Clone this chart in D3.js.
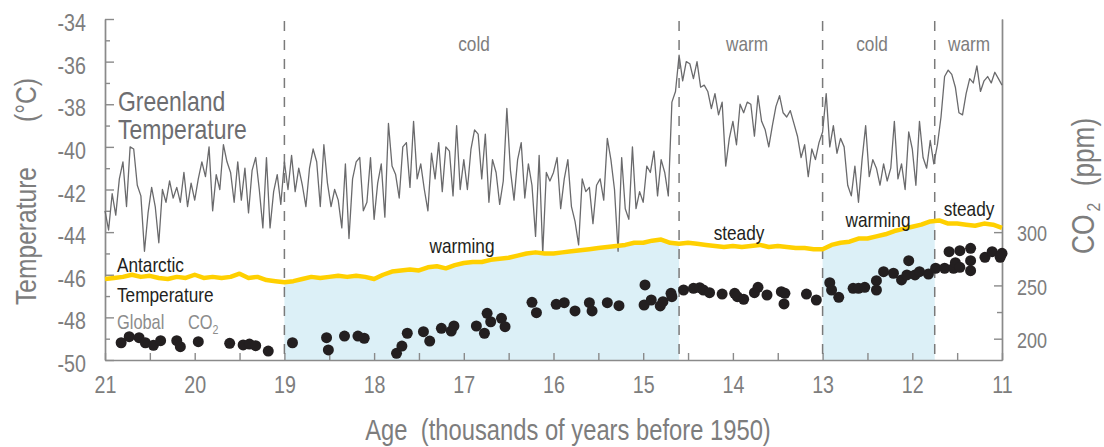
<!DOCTYPE html>
<html>
<head>
<meta charset="utf-8">
<script src="https://cdn.jsdelivr.net/npm/d3@7"></script>
<style>
    body { margin: 0; background: #fff; }
    svg text { font-family: 'Liberation Sans', Arial, sans-serif; white-space: pre; }
</style>
</head>
<body>
<svg id="chart" width="1104" height="447"></svg>
<script>
'use strict';

// Greenland ice core temperature, [age (ka), degC]
var greenland = [
    [21.00,-43.0],[20.96,-43.9],[20.92,-42.2],[20.88,-43.2],[20.84,-41.5],[20.80,-40.7],[20.76,-42.8],[20.72,-40.0],[20.68,-40.1],[20.64,-41.8],
    [20.60,-42.3],[20.56,-44.9],[20.52,-43.1],[20.48,-41.9],[20.44,-42.8],[20.40,-44.5],[20.36,-42.0],[20.32,-42.6],[20.28,-41.6],[20.24,-42.4],
    [20.20,-41.9],[20.16,-42.6],[20.12,-41.2],[20.08,-42.8],[20.04,-41.7],[20.00,-42.5],[19.96,-41.5],[19.92,-40.7],[19.88,-41.4],[19.84,-40.0],
    [19.80,-43.0],[19.76,-41.3],[19.72,-42.0],[19.68,-39.9],[19.64,-40.7],[19.60,-41.2],[19.56,-42.6],[19.52,-40.7],[19.48,-42.5],[19.44,-41.0],
    [19.40,-43.1],[19.36,-41.1],[19.32,-40.5],[19.28,-42.0],[19.24,-43.8],[19.20,-40.5],[19.16,-43.8],[19.12,-42.1],[19.08,-41.3],[19.04,-42.7],
    [19.00,-40.7],
    [18.96,-42.0],[18.92,-40.4],[18.88,-42.1],[18.84,-41.0],[18.80,-41.8],[18.76,-42.8],[18.72,-41.0],[18.68,-40.1],[18.64,-40.7],[18.60,-42.8],
    [18.56,-39.9],[18.52,-41.7],[18.48,-42.8],[18.44,-42.0],[18.40,-42.5],[18.36,-43.8],[18.32,-40.8],[18.28,-44.3],[18.24,-41.5],[18.20,-40.7],
    [18.16,-40.5],[18.12,-43.0],[18.08,-42.6],[18.04,-40.5],[18.00,-43.4],[17.96,-41.7],[17.92,-40.8],[17.88,-43.3],[17.84,-38.9],[17.80,-40.9],
    [17.76,-41.3],[17.72,-42.4],[17.68,-40.0],[17.64,-39.8],[17.60,-41.9],[17.56,-38.8],[17.52,-41.5],[17.48,-40.8],[17.44,-42.0],[17.40,-43.0],
    [17.36,-40.3],[17.32,-41.5],[17.28,-39.8],[17.24,-42.1],[17.20,-40.0],[17.16,-40.2],[17.12,-42.3],[17.08,-39.0],[17.04,-42.0],[17.00,-40.6],
    [16.96,-42.0],[16.92,-40.1],[16.88,-39.2],[16.84,-39.4],[16.80,-41.5],[16.76,-39.4],[16.72,-42.6],[16.68,-40.6],[16.64,-41.2],[16.60,-42.7],
    [16.56,-41.6],[16.52,-38.2],[16.48,-41.1],[16.44,-42.5],[16.40,-40.6],[16.36,-39.8],[16.32,-42.4],[16.28,-40.8],[16.24,-41.8],[16.20,-44.2],
    [16.16,-40.4],[16.12,-45.0],[16.08,-41.2],[16.04,-41.6],[16.00,-41.2],[15.96,-40.5],[15.92,-42.9],[15.88,-41.5],[15.84,-40.6],[15.80,-42.8],
    [15.76,-43.5],[15.72,-44.6],[15.68,-41.5],[15.64,-42.1],[15.60,-41.9],[15.56,-43.6],[15.52,-41.8],[15.48,-41.5],[15.44,-42.5],[15.40,-39.6],
    [15.36,-40.6],[15.32,-42.0],[15.28,-44.9],[15.24,-40.5],[15.20,-42.9],[15.16,-43.4],[15.12,-40.0],[15.08,-42.9],[15.04,-42.1],[15.00,-42.6],
    [14.96,-40.9],[14.92,-41.2],[14.88,-40.2],[14.84,-42.3],[14.80,-40.6],[14.76,-41.2],[14.72,-42.3],[14.68,-37.9],[14.64,-37.4],
    [14.60,-35.7],[14.56,-36.9],[14.52,-36.0],[14.48,-36.1],[14.44,-36.8],[14.40,-36.0],[14.36,-37.2],[14.32,-37.1],[14.28,-37.4],[14.24,-38.2],
    [14.20,-37.5],[14.16,-38.5],[14.12,-37.9],[14.08,-40.9],[14.04,-39.6],[14.00,-38.8],[13.96,-39.9],[13.92,-38.0],[13.88,-38.4],[13.84,-37.9],
    [13.80,-38.0],[13.76,-39.5],[13.72,-37.6],[13.68,-38.8],[13.64,-39.2],[13.60,-40.0],[13.56,-39.0],[13.52,-38.1],[13.48,-37.6],[13.44,-38.4],
    [13.40,-38.6],[13.36,-38.3],[13.32,-38.9],[13.28,-39.5],[13.24,-40.5],[13.20,-39.9],[13.16,-41.4],[13.12,-40.1],[13.08,-40.6],[13.04,-39.8],
    [13.00,-39.3],
    [12.96,-37.5],[12.92,-40.0],[12.88,-39.0],[12.84,-40.3],[12.80,-39.6],[12.76,-40.0],[12.72,-41.8],[12.68,-42.3],[12.64,-40.9],[12.60,-42.6],
    [12.56,-40.6],[12.52,-39.0],[12.48,-41.4],[12.44,-40.6],[12.40,-41.0],[12.36,-41.8],[12.32,-40.8],[12.28,-41.6],[12.24,-41.0],[12.20,-38.8],
    [12.16,-41.5],[12.12,-40.8],[12.08,-42.0],[12.04,-39.3],[12.00,-40.1],[11.96,-41.8],[11.92,-38.8],[11.88,-40.5],[11.84,-41.0],[11.80,-39.7],
    [11.76,-40.8],[11.72,-39.9],[11.68,-38.6],[11.64,-36.7],[11.60,-36.4],[11.56,-36.6],[11.52,-37.2],[11.48,-38.4],[11.44,-38.5],[11.40,-37.5],
    [11.36,-36.8],[11.32,-37.0],[11.28,-36.2],[11.24,-37.4],[11.20,-36.9],[11.16,-36.7],[11.12,-37.0],[11.08,-36.5],[11.04,-36.8],[11.00,-37.1]
];

// Antarctic temperature, [age (ka), degC]
var antarctic = [
    [21.0,-46.2],[20.9,-46.15],[20.8,-46.1],[20.7,-46.0],[20.6,-46.1],[20.5,-46.05],[20.4,-46.15],[20.3,-46.2],[20.2,-46.1],[20.1,-46.15],
    [20.0,-46.0],[19.9,-46.15],[19.8,-46.1],[19.7,-46.15],[19.6,-46.1],[19.5,-45.95],[19.4,-46.15],[19.3,-46.1],[19.2,-46.25],[19.1,-46.3],
    [19.0,-46.35],[18.9,-46.3],[18.8,-46.2],[18.7,-46.1],[18.6,-46.15],[18.5,-46.1],[18.4,-46.05],[18.3,-46.1],[18.2,-46.05],[18.1,-46.1],
    [18.0,-46.2],[17.9,-46.0],[17.8,-45.85],[17.7,-45.8],[17.6,-45.75],[17.5,-45.8],[17.4,-45.65],[17.3,-45.6],[17.2,-45.7],[17.1,-45.55],
    [17.0,-45.45],[16.9,-45.4],[16.8,-45.4],[16.7,-45.3],[16.6,-45.25],[16.5,-45.2],[16.4,-45.1],[16.3,-45.0],[16.2,-44.95],[16.1,-45.0],
    [16.0,-45.0],[15.9,-44.95],[15.8,-44.9],[15.7,-44.85],[15.6,-44.8],[15.5,-44.75],[15.4,-44.7],[15.3,-44.65],[15.2,-44.6],[15.1,-44.5],
    [15.0,-44.5],[14.9,-44.4],[14.8,-44.35],[14.7,-44.5],[14.6,-44.55],[14.5,-44.5],[14.4,-44.55],[14.3,-44.6],[14.2,-44.65],[14.1,-44.7],
    [14.0,-44.65],[13.9,-44.7],[13.8,-44.65],[13.7,-44.6],[13.6,-44.7],[13.5,-44.65],[13.4,-44.7],[13.3,-44.75],[13.2,-44.75],[13.1,-44.8],
    [13.0,-44.8],[12.9,-44.6],[12.8,-44.5],[12.7,-44.45],[12.6,-44.3],[12.5,-44.3],[12.4,-44.2],[12.3,-44.1],[12.2,-43.95],[12.1,-43.85],
    [12.0,-43.75],[11.9,-43.65],[11.8,-43.5],[11.7,-43.45],[11.6,-43.6],[11.5,-43.6],[11.4,-43.65],[11.3,-43.7],[11.2,-43.6],[11.1,-43.65],
    [11.0,-43.8]
];

// Global CO2, [age (ka), ppm]
var co2 = [
    [20.82,196.2],[20.73,201.9],[20.62,200.9],[20.55,196.2],[20.46,193.8],[20.38,198.1],[20.20,198.1],[20.16,192.5],[19.96,197.2],[19.61,195.7],
    [19.46,194.1],[19.39,195.0],[19.32,193.4],[19.18,188.4],[18.91,196.2],[18.53,200.9],[18.51,189.4],[18.33,202.5],[18.18,202.5],[18.11,200.4],
    [17.75,186.3],[17.69,193.1],[17.63,205.1],[17.45,206.6],[17.38,197.8],[17.25,209.7],[17.14,207.2],[17.11,211.9],[16.86,211.9],[16.77,205.1],
    [16.74,223.8],[16.70,215.9],[16.58,219.1],[16.54,211.3],[16.24,234.1],[16.19,224.4],[15.97,232.3],[15.88,233.8],[15.76,226.0],[15.60,233.8],
    [15.57,226.0],[15.40,233.8],[15.27,231.0],[14.98,250.4],[14.99,231.6],[14.91,236.3],[14.81,230.7],[14.78,234.7],[14.69,242.6],[14.68,239.4],
    [14.55,245.7],[14.44,247.3],[14.37,247.9],[14.33,245.7],[14.26,243.2],[14.12,241.9],[13.98,242.6],[13.95,239.4],[13.88,237.0],[13.76,243.2],
    [13.72,248.2],[13.62,241.0],[13.46,244.1],[13.43,232.6],[13.42,242.6],[13.18,241.9],[13.07,236.3],[12.92,252.5],[12.90,245.7],[12.82,238.8],
    [12.66,247.3],[12.60,247.3],[12.53,248.2],[12.40,254.4],[12.40,245.7],[12.32,262.9],[12.21,261.4],[12.12,255.1],[12.04,273.2],[12.06,259.8],
    [11.97,259.8],[11.92,262.9],[11.82,260.7],[11.74,266.1],[11.64,266.1],[11.59,281.6],[11.54,266.1],[11.52,271.3],[11.47,282.6],[11.47,267.0],
    [11.35,284.8],[11.35,273.2],[11.35,263.8],[11.19,276.4],[11.11,281.6],[11.02,276.4],[11.00,280.1]
];

var ageTicks = [21, 20, 19, 18, 17, 16, 15, 14, 13, 12, 11];
var tempTicks = [-50, -48, -46, -44, -42, -40, -38, -36, -34];
var co2Ticks = [200, 250, 300];

// climate phases (Greenland) and the antarctic trend in each
var phaseBounds = [19, 14.6, 13, 11.75];
var phaseNames = ['cold', 'warm', 'cold', 'warm'];
var trendNames = ['warming', 'steady', 'warming', 'steady'];
var warmingSpans = [[19, 14.6], [13, 11.75]];

var INK = '#231f20';
var GRAY = '#7d7d7d';
var AXIS = '#8a8a8a';
var NARROW = 0.82; // Liberation Sans squeezed to a narrow face

var svg = d3.select('#chart');

var x = d3.scaleLinear().domain([21, 11]).range([105, 1002]);
var yTemp = d3.scaleLinear().domain([-50, -34]).range([360, 19]);
var yCo2 = d3.scaleLinear().domain([180, 500]).range([360, 19]);

/*
 * Shaded warming bands under the antarctic curve
 */
function antarcticAt(age) {
    for (var i = 0; i < antarctic.length - 1; i++) {
        var a = antarctic[i], b = antarctic[i + 1];
        if (age <= a[0] && age >= b[0]) {
            var t = (a[0] - age) / (a[0] - b[0]);
            return a[1] + t * (b[1] - a[1]);
        }
    }
    return antarctic[antarctic.length - 1][1];
}

var band = d3.area()
    .x(function(d) { return x(d[0]); })
    .y0(yTemp(-50))
    .y1(function(d) { return yTemp(d[1]); });

warmingSpans.forEach(function(span) {
    var pts = [[span[0], antarcticAt(span[0])]];
    antarctic.forEach(function(d) {
        if (d[0] < span[0] && d[0] > span[1]) pts.push(d);
    });
    pts.push([span[1], antarcticAt(span[1])]);
    svg.append('path')
        .attr('d', band(pts))
        .style('fill', '#dcf0f7');
});

/*
 * Axes
 */
function styleAxis(g, size) {
    g.select('.domain').style('stroke', AXIS).style('stroke-width', 1.4);
    g.selectAll('.tick line').style('stroke', AXIS).style('stroke-width', 1.4);
    g.selectAll('text')
        .style('fill', GRAY)
        .style('font-size', size + 'px')
        .style('font-family', "'Liberation Sans', Arial, sans-serif")
        .attr('x', function() { return (+d3.select(this).attr('x') || 0) / NARROW; })
        .attr('transform', 'scale(' + NARROW + ',1)');
}

var plain = function(d) { return String(d); };

var leftMinor = svg.append('g')
    .attr('transform', 'translate(105,0)')
    .call(d3.axisLeft(yTemp).tickValues(d3.range(-49, -34, 2)).tickSizeInner(-5).tickSizeOuter(0).tickFormat(''));
styleAxis(leftMinor, 24);

var left = svg.append('g')
    .attr('transform', 'translate(105,0)')
    .call(d3.axisLeft(yTemp).tickValues(tempTicks).tickSizeInner(-9).tickSizeOuter(0).tickPadding(19).tickFormat(plain));
left.selectAll('text').attr('dy', '0.48em');
styleAxis(left, 24);

var bottom = svg.append('g')
    .attr('transform', 'translate(0,360)')
    .call(d3.axisBottom(x).tickValues(d3.range(21, 10.9, -0.5)).tickSizeInner(-7).tickSizeOuter(0)
        .tickFormat(function(d) { return ageTicks.indexOf(d) >= 0 ? d : ''; }));
bottom.selectAll('text').attr('y', 33).attr('dy', 0);
styleAxis(bottom, 24);

var rightMinor = svg.append('g')
    .attr('transform', 'translate(1002,0)')
    .call(d3.axisRight(yCo2).tickValues([225, 275]).tickSizeInner(-5).tickSizeOuter(0).tickFormat(''));
styleAxis(rightMinor, 22);

var right = svg.append('g')
    .attr('transform', 'translate(1002,0)')
    .call(d3.axisRight(yCo2).tickValues(co2Ticks).tickSizeInner(-8).tickSizeOuter(0).tickPadding(15).tickFormat(plain));
right.selectAll('text').attr('dy', '0.4em');
styleAxis(right, 22);

/*
 * Phase boundaries
 */
svg.selectAll('line.phase')
    .data(phaseBounds)
    .enter()
    .append('line')
    .attr('class', 'phase')
    .attr('x1', function(d) { return x(d); })
    .attr('x2', function(d) { return x(d); })
    .attr('y1', 21)
    .attr('y2', 360)
    .style('stroke', '#7a7a7a')
    .style('stroke-width', 1.5)
    .style('stroke-dasharray', '10,9');

/*
 * Series
 */
var seriesLine = d3.line()
    .x(function(d) { return x(d[0]); })
    .y(function(d) { return yTemp(d[1]); });

svg.append('path')
    .attr('d', seriesLine(greenland))
    .style('fill', 'none')
    .style('stroke', '#6a6a6c')
    .style('stroke-width', 1.3)
    .style('stroke-linejoin', 'round');

svg.append('path')
    .attr('d', seriesLine(antarctic))
    .style('fill', 'none')
    .style('stroke', '#ffd000')
    .style('stroke-width', 4.5)
    .style('stroke-linejoin', 'round');

svg.selectAll('circle.co2')
    .data(co2)
    .enter()
    .append('circle')
    .attr('class', 'co2')
    .attr('cx', function(d) { return x(d[0]); })
    .attr('cy', function(d) { return yCo2(d[1]); })
    .attr('r', 5.5)
    .style('fill', INK);

/*
 * Text
 */
function label(txt, px, py, size, color, anchor, rotate) {
    return svg.append('text')
        .attr('transform', 'translate(' + px + ',' + py + ')' + (rotate ? ' rotate(-90)' : '') + ' scale(' + NARROW + ',1)')
        .style('font-size', size + 'px')
        .style('fill', color)
        .style('text-anchor', anchor || 'start')
        .text(txt);
}

var phasePos = [[474, 51], [747, 51], [872, 51], [969, 51]];
phaseNames.forEach(function(name, i) {
    label(name, phasePos[i][0], phasePos[i][1], 21, GRAY, 'middle');
});

var trendPos = [[462, 253], [739, 240], [878, 227], [969, 216]];
trendNames.forEach(function(name, i) {
    label(name, trendPos[i][0], trendPos[i][1], 21, INK, 'middle');
});

label('Greenland', 118, 111, 28, '#6d6d70');
label('Temperature', 118, 139, 28, '#6d6d70');
label('Antarctic', 117, 272, 21, INK);
label('Temperature', 117, 302, 21, INK);
label('Global', 117, 329, 20, '#8c8c8c');
var co2Label = label('CO', 188, 329, 20, '#8c8c8c');
co2Label.append('tspan').attr('dy', 5).style('font-size', '13px').text('2');

label('Age  (thousands of years before 1950)', 568, 440, 29, GRAY, 'middle');

label('Temperature', 36, 305, 30, GRAY, 'start', true);
label('(\u00b0C)', 36, 122, 30, GRAY, 'start', true);

var co2Title = label('CO', 1094, 254, 32, GRAY, 'start', true);
co2Title.append('tspan').attr('dx', 4).attr('dy', 6).style('font-size', '19px').text('2');
co2Title.append('tspan').attr('dx', 20).attr('dy', -6).text('(ppm)');
</script>
</body>
</html>
